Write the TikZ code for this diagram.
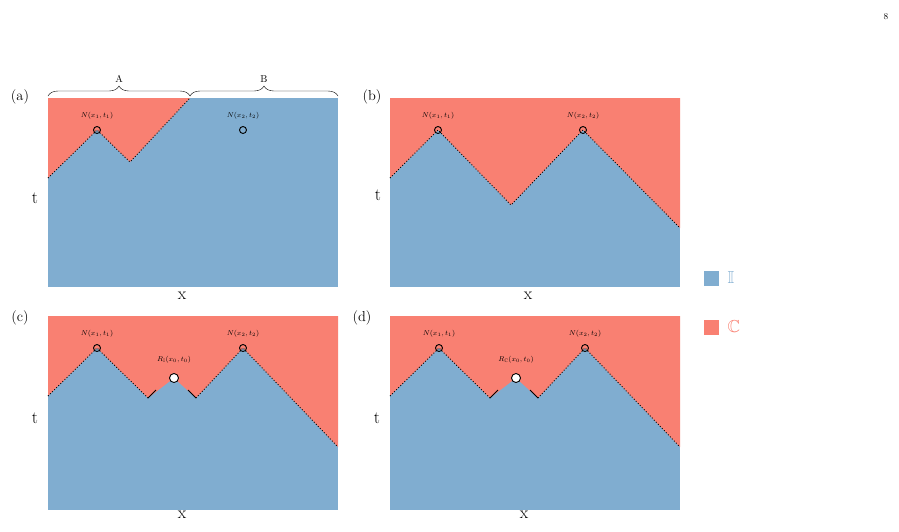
\documentclass[tikz,border=0pt]{standalone}
\usepackage{amsmath, amssymb}
\usepackage{tikz}
\usetikzlibrary{decorations.pathreplacing}
\definecolor{iblue}{RGB}{128,173,208}
\definecolor{cred}{RGB}{249,128,114}

\begin{document}
\begin{tikzpicture}
  [x = 1pt, y = -1pt,
   front/.style = {dotted, line width = .9pt},
   pt/.style = {circle, draw, line width = .9pt, inner sep = 0pt, minimum size = 7pt},
   rpt/.style = {circle, draw, fill = white, line width = .9pt, inner sep = 0pt, minimum size = 9pt},
   lbl/.style = {font = \scriptsize}]
  \useasboundingbox (0,0) rectangle (899,531);
  \node (page) at (886,17) {\small 8};
  % (a)
  \fill[iblue] (48,98) rectangle (338,287);
  \fill[cred] (48,98) -- (48,178) -- (97,130) -- (130,162) -- (190,98) -- cycle;
  \draw[front] (48,178) -- (97,130) -- (130,162) -- (190,98);
  \node[pt] (a1) at (97,130) {};
  \node[pt] (a2) at (243,130) {};
  \node[lbl] at (97,116) {$N(x_1,t_1)$};
  \node[lbl] at (243,116) {$N(x_2,t_2)$};
  \draw[decorate, decoration = {brace, amplitude = 10pt}] (48,96) -- (190,96)
    node[midway, above = 10pt] {A};
  \draw[decorate, decoration = {brace, amplitude = 10pt}] (190,96) -- (338,96)
    node[midway, above = 10pt] {B};
  \node at (20,97) {\Large (a)};
  \node at (35,198) {\LARGE t};
  \node at (182,296) {\LARGE x};
  % (b)
  \fill[iblue] (390,98) rectangle (680,287);
  \fill[cred] (390,98) -- (390,178) -- (438,130) -- (511,205) -- (583,130) -- (680,228) -- (680,98) -- cycle;
  \draw[front] (390,178) -- (438,130) -- (511,205) -- (583,130) -- (680,228);
  \node[pt] (b1) at (438,130) {};
  \node[pt] (b2) at (583,130) {};
  \node[lbl] at (438,116) {$N(x_1,t_1)$};
  \node[lbl] at (583,116) {$N(x_2,t_2)$};
  \node at (372,97) {\Large (b)};
  \node at (378,195) {\LARGE t};
  \node at (528,296) {\LARGE x};
  % (c) and (d)
  \foreach \dx/\tag/\sub in {0/c/\mathbb{I}, 342/d/\mathbb{C}}{
    \begin{scope}[xshift = \dx]
      \fill[iblue] (48,316) rectangle (338,510);
      \fill[cred] (48,316) -- (48,396) -- (97,348) -- (148,398) -- (174,378) -- (196,398) -- (243,348) -- (338,447) -- (338,316) -- cycle;
      \draw[front] (48,396) -- (97,348) -- (148,398);
      \draw[front] (196,398) -- (243,348) -- (338,447);
      \draw[line width = .9pt] (148,398) -- (156,390) (188,390) -- (196,398);
      \node[pt] (n1\tag) at (97,348) {};
      \node[pt] (n2\tag) at (243,348) {};
      \node[rpt] (r\tag) at (174,378) {};
      \node[lbl] at (97,334) {$N(x_1,t_1)$};
      \node[lbl] at (243,334) {$N(x_2,t_2)$};
      \node[lbl] at (174,360) {$R_{\sub}(x_0,t_0)$};
      \node at (20,318) {\Large (\tag)};
      \node at (35,418) {\LARGE t};
      \node at (182,515) {\LARGE x};
    \end{scope}
  }
  % legend
  \fill[iblue] (704,271) rectangle (719,286);
  \node[text = iblue, anchor = west] (li) at (724,278) {\LARGE $\mathbb{I}$};
  \fill[cred] (704,320) rectangle (719,335);
  \node[text = cred, anchor = west] (lc) at (724,327) {\LARGE $\mathbb{C}$};
\end{tikzpicture}
\end{document}
